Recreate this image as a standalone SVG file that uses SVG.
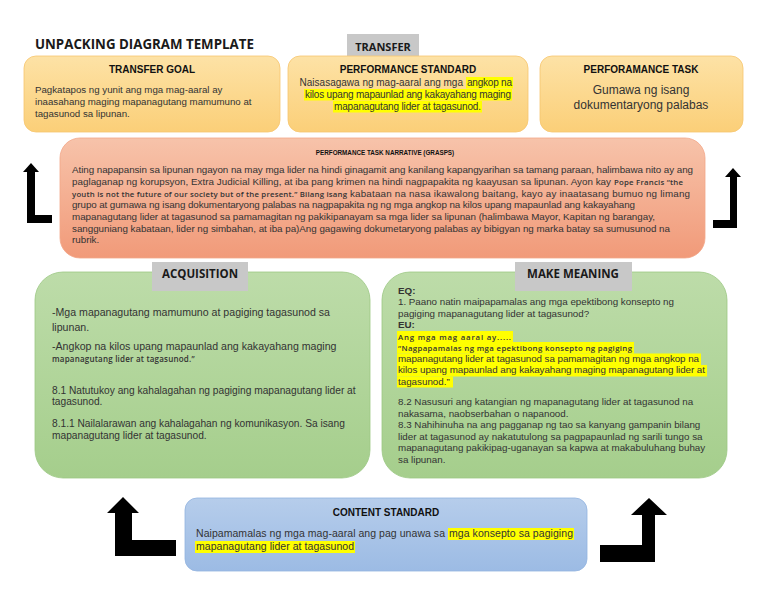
<svg xmlns="http://www.w3.org/2000/svg" width="768" height="594" viewBox="0 0 768 594">
<defs>
<linearGradient id="gOr" x1="0" y1="0" x2="0" y2="1"><stop offset="0" stop-color="#fde2a6"/><stop offset="1" stop-color="#fbcf78"/></linearGradient>
<linearGradient id="gSa" x1="0" y1="0" x2="0" y2="1"><stop offset="0" stop-color="#f7c3aa"/><stop offset="1" stop-color="#f19a79"/></linearGradient>
<linearGradient id="gGr" x1="0" y1="0" x2="0" y2="1"><stop offset="0" stop-color="#bddca9"/><stop offset="1" stop-color="#a5ce8c"/></linearGradient>
<linearGradient id="gBl" x1="0" y1="0" x2="0" y2="1"><stop offset="0" stop-color="#b6cdeb"/><stop offset="1" stop-color="#9cbbe4"/></linearGradient>
</defs>
<style>
.ttl{font-family:"Open Sans","Liberation Sans",sans-serif;font-weight:700;fill:#1a1a1a}
.hd{font-family:"Liberation Sans",Arial,sans-serif;font-weight:700;fill:#111;text-anchor:middle}
.b{font-family:"Liberation Sans",Arial,sans-serif;fill:#333}
.alt{font-family:"Open Sans","Liberation Sans",sans-serif;font-weight:600;fill:#333}
.hl{fill:#ffff00}
.lab{fill:#c8c8c8}
.or{fill:url(#gOr);stroke:#f6c56e;stroke-width:0.8}
.sa{fill:url(#gSa);stroke:#f3a789;stroke-width:0.8}
.gr{fill:url(#gGr);stroke:#9cc884;stroke-width:0.8}
.bl{fill:url(#gBl);stroke:#93b4df;stroke-width:0.8}
.arr{fill:#000}
</style>
<rect width="768" height="594" fill="#ffffff"/>
<text class="ttl" x="35" y="49" font-size="13.3">UNPACKING DIAGRAM TEMPLATE</text>

<g id="transfer-label">
<rect class="lab" x="347" y="34" width="72" height="23"/>
<text class="ttl" x="383" y="51" font-size="11" text-anchor="middle">TRANSFER</text>
</g>

<g id="transfer-goal">
<rect class="or" x="24" y="56" width="256" height="76" rx="12"/>
<text class="hd" x="152" y="73" font-size="10">TRANSFER GOAL</text>
<text class="b" x="35" y="93" font-size="9.7">Pagkatapos ng yunit ang mga mag-aaral ay</text>
<text class="b" x="35" y="105" font-size="9.7">inaasahang maging mapanagutang mamumuno at</text>
<text class="b" x="35" y="117" font-size="9.7">tagasunod sa lipunan.</text>
</g>

<g id="performance-standard">
<rect class="or" x="288" y="56" width="240" height="76" rx="12"/>
<text class="hd" x="408" y="73" font-size="10">PERFORMANCE STANDARD</text>
<rect class="hl" x="466" y="77" width="47" height="11.5"/>
<rect class="hl" x="304" y="89" width="208" height="11.5"/>
<rect class="hl" x="333" y="101" width="149" height="11.5"/>
<text class="b" x="463" y="86" font-size="10" text-anchor="end">Naisasagawa ng mag-aaral ang mga</text>
<text class="b" x="467" y="86" font-size="10" textLength="45">angkop na</text>
<text class="b" x="305" y="98" font-size="10" textLength="206">kilos upang mapaunlad ang kakayahang maging</text>
<text class="b" x="334" y="110" font-size="10" textLength="147">mapanagutang lider at tagasunod.</text>
</g>

<g id="performance-task">
<rect class="or" x="540" y="56" width="203" height="76" rx="12"/>
<text class="hd" x="641" y="73" font-size="10">PERFORAMANCE TASK</text>
<text class="b" x="641" y="94" font-size="12" text-anchor="middle">Gumawa ng isang</text>
<text class="b" x="641" y="109" font-size="12" text-anchor="middle">dokumentaryong palabas</text>
</g>

<g id="narrative">
<rect class="sa" x="60" y="138" width="645" height="120" rx="20"/>
<text class="hd" x="385" y="155" font-size="6.3">PERFORMANCE TASK NARRATIVE (GRASPS)</text>
<text class="b" x="72" y="173" font-size="9.8" textLength="621">Ating napapansin sa lipunan ngayon na may mga lider na hindi ginagamit ang kanilang kapangyarihan sa tamang paraan, halimbawa nito ay ang</text>
<text class="b" x="72" y="185" font-size="9.8" textLength="539">paglaganap ng korupsyon, Extra Judicial Killing, at iba pang krimen na hindi nagpapakita ng kaayusan sa lipunan. Ayon kay</text>
<text class="alt" x="614" y="185" font-size="7.8" textLength="69">Pope Francis “the</text>
<text class="alt" x="72" y="196.5" font-size="7.8" textLength="275">youth is not the future of our society but of the present.” Bilang isang</text>
<text class="b" x="350" y="196.5" font-size="9.8" textLength="340">kabataan na nasa ikawalong baitang, kayo ay inaatasang bumuo ng limang</text>
<text class="b" x="72" y="208" font-size="9.8" textLength="563">grupo at gumawa ng isang dokumentaryong palabas na nagpapakita ng ng mga angkop na kilos upang mapaunlad ang kakayahang</text>
<text class="b" x="72" y="220" font-size="9.8" textLength="583">mapanagutang lider at tagasunod sa pamamagitan ng pakikipanayam sa mga lider sa lipunan (halimbawa Mayor, Kapitan ng barangay,</text>
<text class="b" x="72" y="231.5" font-size="9.8" textLength="598">sangguniang kabataan, lider ng simbahan, at iba pa)Ang gagawing dokumetaryong palabas ay bibigyan ng  marka batay sa sumusunod na</text>
<text class="b" x="72" y="243" font-size="9.8">rubrik.</text>
</g>

<g id="acquisition">
<rect class="gr" x="35" y="272" width="335" height="206" rx="28"/>
<rect class="lab" x="152" y="262" width="96" height="29"/>
<text class="ttl" x="200" y="278" font-size="11.5" text-anchor="middle">ACQUISITION</text>
<text class="b" x="52" y="316" font-size="10.6">-Mga mapanagutang mamumuno at pagiging tagasunod sa</text>
<text class="b" x="52" y="331" font-size="10.6">lipunan.</text>
<text class="b" x="52" y="350" font-size="10.6">-Angkop na kilos upang mapaunlad ang kakayahang maging</text>
<text class="alt" x="52" y="362" font-size="8" letter-spacing="0.2">mapanagutang lider at tagasunod.”</text>
<text class="b" x="52" y="394" font-size="10.2">8.1 Natutukoy ang kahalagahan ng pagiging mapanagutang lider at</text>
<text class="b" x="52" y="405" font-size="10.2">tagasunod.</text>
<text class="b" x="52" y="427" font-size="10.2">8.1.1 Nailalarawan ang kahalagahan ng komunikasyon. Sa isang</text>
<text class="b" x="52" y="439" font-size="10.2">mapanagutang lider at tagasunod.</text>
</g>

<g id="make-meaning">
<rect class="gr" x="382" y="272" width="345" height="206" rx="28"/>
<rect class="lab" x="515" y="262" width="117" height="29"/>
<text class="ttl" x="573" y="278" font-size="11.5" text-anchor="middle">MAKE MEANING</text>
<rect class="hl" x="397" y="331" width="116" height="11"/>
<rect class="hl" x="397" y="342" width="237" height="11.5"/>
<rect class="hl" x="397" y="353.5" width="304" height="11.5"/>
<rect class="hl" x="397" y="365" width="310" height="11.5"/>
<rect class="hl" x="397" y="376.5" width="56" height="11"/>
<text class="b" x="398" y="294" font-size="9.8" font-weight="700" fill="#222">EQ:</text>
<text class="b" x="398" y="305" font-size="9.8" textLength="276">1. Paano natin maipapamalas  ang mga epektibong konsepto ng</text>
<text class="b" x="398" y="316.5" font-size="9.8">pagiging mapanagutang lider at tagasunod?</text>
<text class="b" x="398" y="327.5" font-size="9.8" font-weight="700" fill="#222">EU:</text>
<text class="alt" x="398" y="339.5" font-size="7.8" textLength="113">Ang mga mag aaral ay.....</text>
<text class="alt" x="398" y="350.5" font-size="7.8" textLength="234">“Nagpapamalas ng mga epektibong konsepto ng pagiging</text>
<text class="b" x="398" y="361.5" font-size="9.8" textLength="301">mapanagutang lider at tagasunod sa pamamagitan ng mga angkop na</text>
<text class="b" x="398" y="373" font-size="9.8" textLength="307">kilos upang mapaunlad ang kakayahang maging mapanagutang lider at</text>
<text class="b" x="398" y="384.5" font-size="9.8">tagasunod.”</text>
<text class="b" x="398" y="404.5" font-size="9.8">8.2 Nasusuri ang katangian ng mapanagutang lider at tagasunod na</text>
<text class="b" x="398" y="416.5" font-size="9.8">nakasama, naobserbahan o napanood.</text>
<text class="b" x="398" y="427.5" font-size="9.8">8.3 Nahihinuha na ang pagganap ng tao sa kanyang gampanin bilang</text>
<text class="b" x="398" y="439.5" font-size="9.8">lider at tagasunod ay nakatutulong sa pagpapaunlad ng sarili tungo sa</text>
<text class="b" x="398" y="450.5" font-size="9.8">mapanagutang pakikipag-uganayan sa kapwa at makabuluhang buhay</text>
<text class="b" x="398" y="462.5" font-size="9.8">sa lipunan.</text>
</g>

<g id="content-standard">
<rect class="bl" x="185" y="498" width="402" height="73" rx="12"/>
<text class="hd" x="386" y="516" font-size="10">CONTENT STANDARD</text>
<rect class="hl" x="448" y="528" width="126" height="12"/>
<rect class="hl" x="195" y="541" width="160" height="12"/>
<text class="b" x="196" y="537" font-size="10.5" textLength="249">Naipamamalas ng mga mag-aaral ang pag unawa sa</text>
<text class="b" x="449" y="537" font-size="10.5" textLength="124">mga konsepto sa pagiging</text>
<text class="b" x="196" y="550" font-size="10.5" textLength="158">mapanagutang lider at tagasunod</text>
</g>

<g id="connectors">
<polygon class="arr" points="31,163 39,172 35,172 35,215 52,215 52,223 27,223 27,172 23,172"/>
<polygon class="arr" points="733,168 741,177 737,177 737,228 713,228 713,220 730,220 730,177 725,177"/>
<polygon class="arr" points="123,497 139,513 132,513 132,540 176,540 176,556 115,556 115,513 107,513"/>
<polygon class="arr" points="649,498 667,515 655,515 655,562 600,562 600,545 642,545 642,515 631,515"/>
</g>
</svg>
